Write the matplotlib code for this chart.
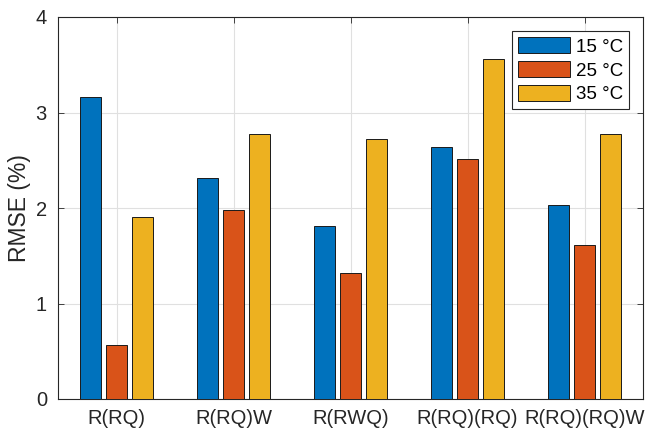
import numpy as np
import matplotlib
matplotlib.use('Agg')
import matplotlib.pyplot as plt

plt.rcParams['font.family'] = ['Liberation Sans', 'DejaVu Sans']

models = ['R(RQ)', 'R(RQ)W', 'R(RWQ)', 'R(RQ)(RQ)', 'R(RQ)(RQ)W']
series_labels = ['15 °C', '25 °C', '35 °C']
rmse_15 = [3.16, 2.31, 1.81, 2.64, 2.03]
rmse_25 = [0.57, 1.98, 1.32, 2.51, 1.61]
rmse_35 = [1.91, 2.78, 2.72, 3.56, 2.77]
colors = ['#0072BD', '#D95319', '#EDB120']

fig = plt.figure(figsize=(6.47, 4.32), dpi=100)
ax = fig.add_axes([58 / 647, 1 - 399 / 432, 585 / 647, 382 / 432])

x = np.arange(1, len(models) + 1)
offset = 0.2222
width = 0.178
for i, (vals, lab) in enumerate(zip([rmse_15, rmse_25, rmse_35], series_labels)):
    ax.bar(x + (i - 1) * offset, vals, width, color=colors[i], edgecolor='#1a1a1a',
           linewidth=0.7, label=lab, zorder=3)

ax.set_xlim(0.5, 5.5)
ax.set_ylim(0, 4)
ax.set_xticks(x)
ax.set_xticklabels(models)
ax.set_yticks([0, 1, 2, 3, 4])
ax.set_ylabel('RMSE (%)', fontsize=16.5, color='#262626', labelpad=3)
ax.tick_params(direction='in', top=True, right=True, labelsize=14.5,
               colors='#262626', length=4, width=0.6)
ax.tick_params(axis='x', pad=7)
ax.tick_params(axis='y', pad=8)
ax.grid(True, color='#e0e0e0', linewidth=0.8, zorder=0)
ax.set_axisbelow(True)
for s in ax.spines.values():
    s.set_linewidth(0.8)
    s.set_color('#262626')

leg = ax.legend(loc='upper right', bbox_to_anchor=(1 - 14 / 585, 1 - 14 / 382), fontsize=13.5,
                fancybox=False, framealpha=1, edgecolor='#262626',
                handlelength=2.8, handleheight=0.95, handletextpad=0.28,
                borderpad=0.33, labelspacing=0.28, borderaxespad=0)
leg.get_frame().set_linewidth(0.8)

fig.savefig('out.png', dpi=100)
